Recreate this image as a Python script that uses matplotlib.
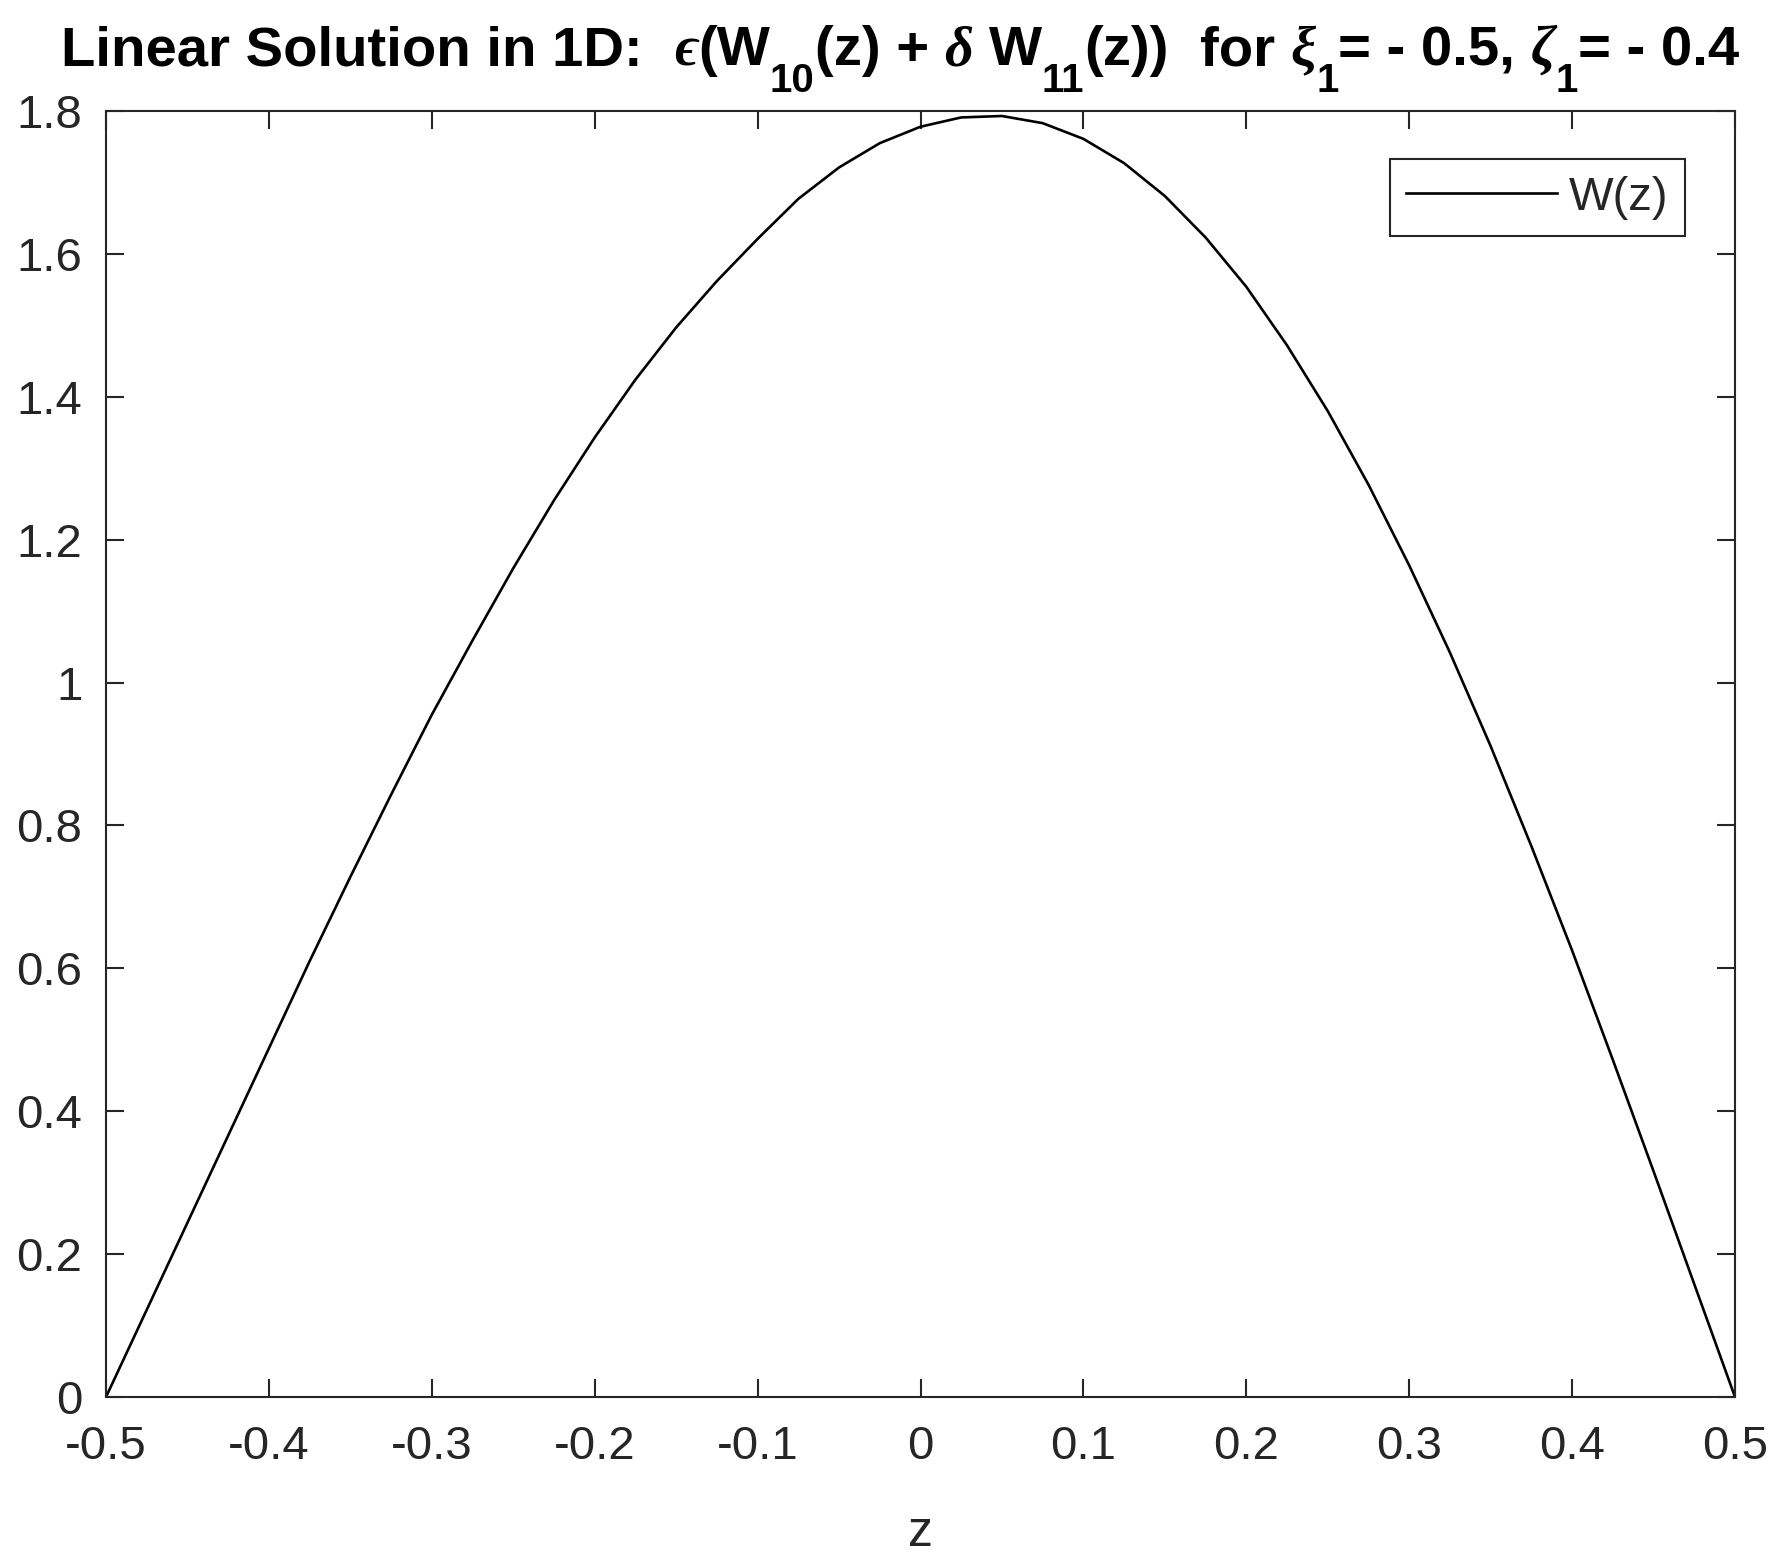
import numpy as np
import matplotlib
matplotlib.use("Agg")
import matplotlib.pyplot as plt
from matplotlib.transforms import IdentityTransform

# W(z), every 0.025 in z
z = [-0.5, -0.475, -0.45, -0.425, -0.4, -0.375, -0.35, -0.325, -0.3, -0.275,
     -0.25, -0.225, -0.2, -0.175, -0.15, -0.125, -0.1, -0.075, -0.05, -0.025,
     0.0, 0.025, 0.05, 0.075, 0.1, 0.125, 0.15, 0.175, 0.2, 0.225,
     0.25, 0.275, 0.3, 0.325, 0.35, 0.375, 0.4, 0.425, 0.45, 0.475, 0.5]
W = [0.0, 0.122, 0.244, 0.366, 0.488, 0.610, 0.728, 0.843, 0.955, 1.059,
     1.160, 1.255, 1.343, 1.424, 1.497, 1.562, 1.621, 1.677, 1.721, 1.755,
     1.778, 1.791, 1.793, 1.783, 1.761, 1.727, 1.681, 1.623, 1.554, 1.472,
     1.380, 1.277, 1.164, 1.042, 0.911, 0.771, 0.625, 0.472, 0.316, 0.158, 0.0]

xticks = [-0.5, -0.4, -0.3, -0.2, -0.1, 0, 0.1, 0.2, 0.3, 0.4, 0.5]
xticklabels = ["-0.5", "-0.4", "-0.3", "-0.2", "-0.1", "0", "0.1", "0.2", "0.3", "0.4", "0.5"]
yticks = [0, 0.2, 0.4, 0.6, 0.8, 1.0, 1.2, 1.4, 1.6, 1.8]
yticklabels = ["0", "0.2", "0.4", "0.6", "0.8", "1", "1.2", "1.4", "1.6", "1.8"]

# title pieces: (text, kind, spaces after)  kind: n = normal, g = greek, s = subscript
title_parts = [
    ("Linear Solution in 1D:", "n", 2),
    ("\u03f5", "g", 0),
    ("(W", "n", 0),
    ("10", "s", 0),
    ("(z) +", "n", 1),
    ("\u03b4", "g", 1),
    ("W", "n", 0),
    ("11", "s", 0),
    ("(z))", "n", 2),
    ("for", "n", 1),
    ("\u03be", "g", 0),
    ("1", "s", 0),
    ("= - 0.5,", "n", 1),
    ("\u03b6", "g", 0),
    ("1", "s", 0),
    ("= - 0.4", "n", 0),
]

plt.rcParams['font.family'] = ['Liberation Sans', 'DejaVu Sans']
axcol = '#262626'
W_PX, H_PX = 1792, 1563

fig = plt.figure(figsize=(W_PX / 100, H_PX / 100), dpi=100)
ax = fig.add_axes([106 / W_PX, 1 - 1397 / H_PX, 1629 / W_PX, 1286 / H_PX])

ax.plot(z, W, color='black', linewidth=1.9, label='W(z)')

ax.set_xlim(-0.5, 0.5)
ax.set_ylim(0, 1.8)
ax.set_xticks(xticks)
ax.set_xticklabels(xticklabels)
ax.set_yticks(yticks)
ax.set_yticklabels(yticklabels)

for s in ax.spines.values():
    s.set_color(axcol)
    s.set_linewidth(1.5)
ax.tick_params(axis='both', direction='in', length=13, width=1.5, color=axcol,
               labelcolor=axcol, labelsize=34, top=True, right=True)
ax.tick_params(axis='x', pad=20)
ax.tick_params(axis='y', pad=17)

ax.set_xlabel('z', fontsize=36, color=axcol, labelpad=30)

leg = ax.legend(loc='upper right', bbox_to_anchor=((1685 - 106) / 1629, (1397 - 159) / 1286),
                borderaxespad=0, fontsize=34, handlelength=3.2, handletextpad=0.25,
                borderpad=0.35, fancybox=False, framealpha=1)
leg.get_frame().set_edgecolor(axcol)
leg.get_frame().set_linewidth(1.5)
for t in leg.get_texts():
    t.set_color(axcol)

# title built piece by piece so the subscripts sit low like in the original
main_size = 40.5
sub_size = 29
base_y = H_PX - 65
sub_y = H_PX - 92
renderer = fig.canvas.get_renderer()


def make_text(txt, kind, y):
    kw = dict(transform=IdentityTransform(), ha='left', va='baseline', color='black',
              fontweight='bold')
    if kind == "g":
        return fig.text(0, y, txt, fontsize=main_size, fontstyle='italic',
                        family=['Liberation Serif', 'DejaVu Serif'], **kw)
    if kind == "s":
        return fig.text(0, sub_y, txt, fontsize=sub_size, **kw)
    return fig.text(0, y, txt, fontsize=main_size, **kw)


probe1 = fig.text(0, 0, "xx", fontsize=main_size, fontweight='bold')
probe2 = fig.text(0, 0, "x x", fontsize=main_size, fontweight='bold')
space_w = probe2.get_window_extent(renderer).width - probe1.get_window_extent(renderer).width
probe1.remove()
probe2.remove()

pieces = []
total = 0
for txt, kind, gap in title_parts:
    t = make_text(txt, kind, base_y)
    w = t.get_window_extent(renderer).width
    pieces.append((t, w, gap))
    total += w + gap * space_w

x = 900 - total / 2
for t, w, gap in pieces:
    t.set_x(x)
    x += w + gap * space_w

fig.savefig('out.png', dpi=100)
